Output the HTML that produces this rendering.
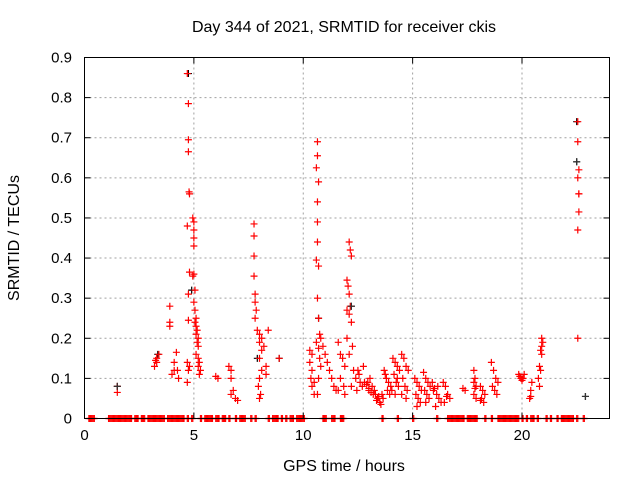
<!DOCTYPE html>
<html><head><meta charset="utf-8"><style>
body{margin:0;background:#fff;}
svg text{font-family:"Liberation Sans",sans-serif;font-size:15px;fill:#000;}
</style></head><body>
<svg id="chart" width="640" height="480" xmlns="http://www.w3.org/2000/svg">
<rect width="640" height="480" fill="#fff"/>
<g id="grid"></g>
<g id="marks"></g>
<rect x="84.5" y="57.5" width="525" height="361" fill="none" stroke="#000" stroke-width="1"/>
<g id="ticks"></g>
<text x="344" y="32" text-anchor="middle" style="font-size:16px">Day 344 of 2021, SRMTID for receiver ckis</text>
<text x="344" y="471" text-anchor="middle" style="font-size:16px">GPS time / hours</text>
<text transform="translate(19,238) rotate(-90)" text-anchor="middle" style="font-size:16px">SRMTID / TECUs</text>
</svg>
<script>
const xTicks=[0,5,10,15,20];
const yTicks=[0,0.1,0.2,0.3,0.4,0.5,0.6,0.7,0.8,0.9];
const zeroHours=[0.2,0.3,0.4,1.1,1.2,1.3,1.4,1.5,1.6,1.7,1.8,1.9,2.0,2.1,2.3,2.4,2.6,2.7,2.9,3.0,3.1,3.2,3.3,3.4,3.5,3.6,3.8,3.9,4.0,4.1,4.2,4.3,4.4,4.5,4.7,4.9,5.3,5.5,5.6,5.7,5.8,6.0,6.1,6.3,6.4,6.6,6.9,7.1,7.2,7.3,7.6,7.8,8.4,8.6,8.7,8.8,9.0,9.2,9.4,9.5,9.7,9.8,9.9,10.0,10.9,11.0,11.3,11.4,11.7,11.8,13.6,14.3,15.0,16.1,16.6,16.7,16.8,16.9,17.0,17.1,17.2,17.3,17.5,17.6,17.7,17.8,17.9,18.3,18.6,18.9,19.0,19.1,19.2,19.3,19.4,19.5,19.6,19.7,19.8,20.0,20.2,20.4,20.5,20.7,21.1,21.3,21.6,21.8,21.9,22.0,22.1,22.2,22.3,22.5,22.8];
const redHours=[1.5,1.5,3.2,3.3,3.3,3.4,3.25,3.9,3.9,3.9,4.0,4.1,4.1,4.2,4.3,4.25,
4.7,4.75,4.75,4.75,4.78,4.8,4.7,4.8,4.75,4.75,4.7,4.8,4.7,4.75,
4.95,5.0,5.0,5.0,5.0,5.0,4.95,5.05,5.0,5.05,5.1,5.05,5.1,5.15,5.1,5.2,5.15,5.2,5.1,5.2,5.25,5.2,5.3,5.25,
6.0,6.1,6.6,6.7,6.7,6.8,6.7,6.9,7.0,
7.75,7.75,7.75,7.75,7.8,7.8,7.85,7.8,
7.9,8.0,8.1,8.0,8.2,8.1,8.0,8.1,8.0,7.95,8.05,8.0,8.3,8.3,8.4,8.9,
10.3,10.4,10.3,10.4,10.35,10.5,10.4,10.5,
10.65,10.65,10.6,10.7,10.65,10.65,10.65,10.6,10.7,10.65,10.7,10.75,10.6,10.8,10.7,10.75,10.8,10.7,10.65,
10.9,11.0,11.1,11.2,11.3,11.4,11.5,
11.6,11.7,11.8,11.9,11.7,11.85,11.6,11.9,
12.1,12.15,12.2,12.0,12.05,12.1,12.15,12.0,12.1,12.2,12.0,12.25,12.1,12.3,12.2,
12.4,12.5,12.6,12.7,12.45,12.55,12.75,12.8,
12.9,13.0,13.1,13.2,12.95,13.05,13.15,13.0,
13.3,13.4,13.5,13.35,13.45,13.25,13.55,13.6,
13.7,13.8,13.9,14.0,13.75,13.85,13.95,13.65,
14.1,14.2,14.3,14.4,14.15,14.25,14.35,14.05,14.2,14.3,
14.5,14.6,14.7,14.8,14.55,14.65,14.75,14.5,14.7,
15.1,15.2,15.3,15.4,15.15,15.25,15.35,15.2,
15.5,15.6,15.7,15.8,15.55,15.65,15.75,15.6,
15.9,16.0,16.1,16.2,16.3,16.05,15.95,16.15,
16.4,16.5,16.6,16.7,16.45,16.55,
17.3,17.4,
17.8,17.85,17.8,17.9,17.85,17.8,17.9,
18.1,18.2,18.3,18.15,18.25,18.1,
18.6,18.7,18.8,18.9,18.65,18.75,18.85,
19.85,19.9,19.95,20.0,20.05,20.1,
20.4,20.45,20.35,20.4,
20.9,20.95,20.9,20.85,20.9,20.8,20.85,20.75,20.8,
22.55,22.55,22.6,22.55,22.6,22.6,22.6,22.55,22.55];
const redValues=[0.08,0.065,0.13,0.14,0.15,0.16,0.145,0.28,0.24,0.23,0.11,0.12,0.14,0.165,0.1,0.12,
0.86,0.785,0.695,0.665,0.565,0.56,0.48,0.365,0.31,0.245,0.14,0.13,0.09,0.12,
0.5,0.49,0.47,0.45,0.43,0.36,0.355,0.32,0.29,0.27,0.25,0.24,0.23,0.22,0.21,0.2,0.19,0.18,0.16,0.15,0.14,0.13,0.12,0.11,
0.105,0.1,0.13,0.12,0.1,0.07,0.06,0.05,0.045,
0.485,0.455,0.405,0.355,0.31,0.29,0.27,0.25,
0.22,0.21,0.2,0.19,0.18,0.17,0.15,0.12,0.1,0.08,0.06,0.05,0.11,0.13,0.22,0.15,
0.17,0.16,0.14,0.12,0.1,0.09,0.08,0.06,
0.69,0.655,0.625,0.59,0.54,0.49,0.44,0.395,0.38,0.3,0.25,0.21,0.19,0.2,0.175,0.15,0.13,0.1,0.06,
0.18,0.16,0.14,0.12,0.1,0.08,0.07,
0.19,0.16,0.15,0.13,0.1,0.08,0.07,0.06,
0.44,0.42,0.405,0.345,0.33,0.31,0.28,0.27,0.26,0.24,0.2,0.18,0.16,0.12,0.08,
0.1,0.12,0.09,0.08,0.07,0.11,0.13,0.09,
0.085,0.075,0.065,0.06,0.09,0.1,0.08,0.07,
0.06,0.05,0.04,0.045,0.055,0.07,0.035,0.06,
0.12,0.1,0.09,0.08,0.11,0.07,0.06,0.05,
0.15,0.14,0.13,0.12,0.11,0.09,0.08,0.07,0.06,0.1,
0.16,0.15,0.13,0.12,0.1,0.08,0.07,0.06,0.05,
0.1,0.09,0.08,0.07,0.06,0.05,0.04,0.03,
0.115,0.1,0.09,0.08,0.07,0.06,0.05,0.04,
0.09,0.075,0.06,0.05,0.04,0.03,0.07,0.08,
0.09,0.08,0.06,0.05,0.04,0.055,
0.075,0.07,
0.12,0.1,0.09,0.08,0.075,0.06,0.05,
0.08,0.07,0.06,0.05,0.04,0.045,
0.14,0.12,0.1,0.09,0.08,0.07,0.06,
0.11,0.105,0.1,0.095,0.1,0.11,
0.07,0.09,0.05,0.055,
0.2,0.19,0.18,0.17,0.16,0.13,0.12,0.1,0.08,
0.74,0.69,0.62,0.6,0.56,0.56,0.515,0.47,0.2];
const blackHours=[1.5,4.75,4.9,7.9,8.9,10.7,12.2,22.5,22.5,22.9,3.35];
const blackValues=[0.08,0.86,0.32,0.15,0.15,0.25,0.28,0.74,0.64,0.055,0.16];

const X0=84.5,X1=609.5,Y0=418.5,Y1=57.5;
function sx(h){return X0+(h/24)*(X1-X0);}
function sy(v){return Y0-(v/0.9)*(Y0-Y1);}
const NS="http://www.w3.org/2000/svg";
const grid=document.getElementById('grid'),ticks=document.getElementById('ticks'),marks=document.getElementById('marks');
function line(p,x1,y1,x2,y2,st,dash){const l=document.createElementNS(NS,'line');l.setAttribute('x1',x1);l.setAttribute('y1',y1);l.setAttribute('x2',x2);l.setAttribute('y2',y2);l.setAttribute('stroke',st);if(dash)l.setAttribute('stroke-dasharray',dash);p.appendChild(l);return l;}
function txt(s,x,y,a){const t=document.createElementNS(NS,'text');t.setAttribute('x',x);t.setAttribute('y',y);t.setAttribute('text-anchor',a);t.textContent=s;ticks.appendChild(t);return t;}
xTicks.forEach(v=>{const x=sx(v);
 if(v>0){const g=line(grid,x,Y1,x,Y0,'#a0a0a0','2,3');
 
 }
 line(ticks,x,Y0,x,Y0-6,'#000');line(ticks,x,Y1,x,Y1+6,'#000');
 const t=txt(String(v),x,440,'middle');
 
 });
yTicks.forEach(v=>{const y=sy(v);
 if(v>0&&v<0.9){const g=line(grid,X0,y,X1,y,'#a0a0a0','2,3');
 
 }
 line(ticks,X0,y,X0+6,y,'#000');line(ticks,X1,y,X1-6,y,'#000');
 const t=txt(String(v),72,y+5,'end');
 
 });
function plus(h,v,c,name){const x=sx(h),y=sy(v);const p=document.createElementNS(NS,'path');
 p.setAttribute('d',`M${x-3.5},${y}H${x+3.5}M${x},${y-3.5}V${y+3.5}`);p.setAttribute('stroke',c);p.setAttribute('stroke-width','1.2');
 
 
 marks.appendChild(p);}
blackHours.forEach((h,i)=>plus(h,blackValues[i],'#000','black-point'));
zeroHours.forEach(h=>{plus(h,0,'#f00','zero-point');plus(h+0.05,0,'#f00','zero-point');});
redHours.forEach((h,i)=>plus(h,redValues[i],'#f00','red-point'));
blackHours.forEach((h,i)=>{if(i===0||i===6||i===8||i===9)plus(h,blackValues[i],'#333','black-point');});
</script>
</body></html>
